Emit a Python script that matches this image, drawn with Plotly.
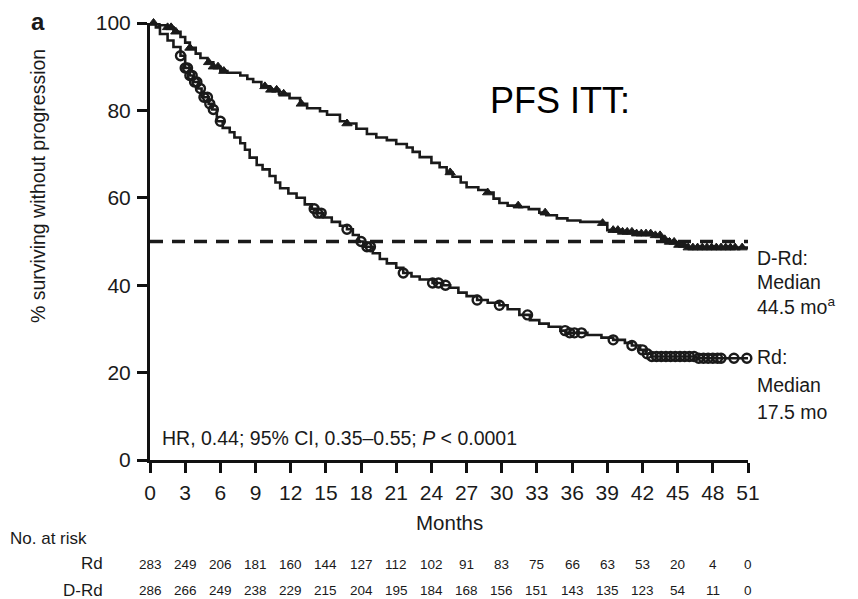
import numpy as np
import plotly.graph_objects as go

# ---------------- data ----------------
rd_time = [0, 0.5, 0.85, 1.5, 2.0, 2.6, 3.0, 3.4, 3.7, 4.1, 4.4, 5.0, 5.3, 5.7, 6.2, 6.8, 7.2, 7.7,
           8.1, 8.5, 9.1, 9.6, 10.2, 10.7, 11.1, 11.8, 12.5, 13.2, 13.8, 14.2, 14.8, 15.5, 16.2,
           16.8, 17.3, 17.8, 18.2, 19.0, 19.6, 20.2, 21.0, 21.6, 22.3, 23.0, 24.1, 25.0, 25.6,
           26.3, 27.0, 27.9, 28.8, 29.8, 30.5, 31.5, 32.4, 33.2, 34.0, 35.0, 35.5, 37.3, 38.5,
           39.5, 40.5, 41.1, 41.8, 42.3, 42.8, 46.6, 51.0]
rd_surv = [100, 99, 97.5, 96, 94.5, 92.5, 89.7, 88, 86.5, 85, 83, 81.5, 80.2, 77.5, 76, 75, 73.8, 72.5,
           71, 69.2, 67.5, 66.5, 65, 63.5, 62.2, 61, 60, 58.5, 57.5, 56.5, 55.5, 54.5, 53.6,
           52.8, 51.5, 50, 48.8, 47.3, 46, 45, 44, 42.8, 42, 41.3, 40.5, 40, 39.4,
           38.3, 37.5, 36.6, 36, 35.4, 34.5, 33.2, 32, 31.2, 30.5, 29.6, 29.1, 28.6, 28,
           27.5, 26.8, 26.2, 25.2, 24.3, 23.7, 23.3, 23.3]

drd_time = [0, 0.8, 1.4, 2.0, 2.6, 3.0, 3.4, 3.9, 4.3, 4.9, 5.4, 6.0, 6.6, 7.7, 8.3, 8.8, 9.5, 10.2,
            11.0, 11.9, 12.8, 13.4, 14.5, 15.1, 16.2, 16.8, 17.6, 18.5, 19.3, 20.2, 21.0, 21.9,
            22.4, 23.0, 24.0, 24.7, 25.3, 25.8, 26.5, 27.0, 28.0, 28.7, 29.3, 29.8, 30.5, 31.5,
            32.3, 33.2, 33.8, 34.7, 35.6, 36.7, 38.6, 39.0, 40.1, 41.5, 42.9, 43.6, 44.3, 45.0,
            45.8, 51.0]
drd_surv = [100, 99.5, 99, 98, 96.8, 95.5, 94.3, 93, 92, 91, 90, 89, 88.6, 88, 87.2, 86.5, 85.5, 84.7,
            83.8, 82.8, 81.5, 80.5, 79.8, 79, 77.5, 77, 75.8, 74.6, 73.8, 73.2, 72.3, 71.5,
            70.5, 69.3, 68, 67, 65.8, 64.8, 63.5, 62.4, 61.8, 61.2, 59.8, 58.8, 58.2, 57.9,
            57.4, 56.6, 56, 55.3, 54.8, 54.5, 54.2, 52.6, 52.2, 51.8, 51.4, 50.5, 49.9, 49.2,
            48.6, 48.6]

rd_censored = [2.6, 3.0, 3.2, 3.4, 3.6, 3.8, 4.0, 4.3, 4.6, 4.9, 5.1, 5.4, 6.0, 14.0, 14.3, 14.6,
               16.8, 18.0, 18.5, 18.8, 21.6, 24.1, 24.6, 25.2, 27.9, 29.8, 32.2, 35.4, 35.8, 36.2,
               36.8, 39.5, 41.1, 42.0, 42.4, 42.8, 43.2, 43.6, 44.0, 44.4, 44.8, 45.2, 45.6, 46.0,
               46.4, 46.8, 47.2, 47.6, 48.0, 48.4, 48.7, 49.8, 50.9]
drd_censored = [0.3, 1.5, 1.8, 2.2, 3.4, 5.0, 5.4, 5.8, 6.3, 9.8, 10.3, 10.8, 11.4, 12.9, 16.8,
                25.6, 28.8, 31.4, 33.7, 38.6, 39.5, 39.9, 40.3, 40.7, 41.1, 41.5, 41.9, 42.3, 42.7,
                43.1, 43.5, 43.9, 44.3, 44.7, 45.1, 45.5, 45.9, 46.3, 46.7, 47.1, 47.5, 47.9, 48.3,
                48.7, 49.1, 49.5, 49.9, 50.5]

month_ticks = list(range(0, 52, 3))
risk_rd = [283, 249, 206, 181, 160, 144, 127, 112, 102, 91, 83, 75, 66, 63, 53, 20, 4, 0]
risk_drd = [286, 266, 249, 238, 229, 215, 204, 195, 184, 168, 156, 151, 143, 135, 123, 54, 11, 0]
median_level = 50

# ---------------- layout helpers ----------------
W, H = 858, 599
L, R, T, B = 150, 110, 23, 139
PW, PH = W - L - R, H - T - B
FONT = "Liberation Sans, Arial, Helvetica, sans-serif"
INK = "#1a1a1a"


def px(x):
    return (x - L) / PW


def py(y):
    return (H - B - y) / PH


def step_at(times, surv, t):
    times = np.asarray(times)
    i = np.searchsorted(times, t, side="right") - 1
    return np.asarray(surv)[i]


fig = go.Figure()

# median reference line
fig.add_trace(go.Scatter(x=[0, 51], y=[median_level, median_level], mode="lines",
                         line=dict(color=INK, width=3.5, dash="13px,9px"),
                         hoverinfo="skip", showlegend=False, cliponaxis=False))

# KM step curves
for t, s in ((rd_time, rd_surv), (drd_time, drd_surv)):
    fig.add_trace(go.Scatter(x=t, y=s, mode="lines", line=dict(color=INK, width=2.6, shape="hv"),
                             showlegend=False, cliponaxis=False))

# censor marks
fig.add_trace(go.Scatter(x=rd_censored, y=step_at(rd_time, rd_surv, rd_censored), mode="markers",
                         marker=dict(symbol="circle-open", size=9, color=INK, line=dict(width=2.4, color=INK)),
                         showlegend=False, cliponaxis=False))
fig.add_trace(go.Scatter(x=drd_censored, y=step_at(drd_time, drd_surv, drd_censored), mode="markers",
                         marker=dict(symbol="triangle-up", size=9, color=INK, line=dict(width=1, color=INK)),
                         showlegend=False, cliponaxis=False))

ann = []


def text(x, y, s, size, xanchor="center", xref="paper", **kw):
    ann.append(dict(x=x, y=y, xref=xref, yref="paper", text=s, showarrow=False,
                    xanchor=xanchor, yanchor="middle",
                    font=dict(family=FONT, size=size, color=kw.pop("color", INK)), **kw))


text(px(38), py(22), "<b>a</b>", 24)
text(px(38), py(186), "% surviving without progression", 19.5, textangle=-90)
text(px(560), py(100), "PFS ITT:", 36, color="#000000")
text(px(160), py(438), "HR, 0.44; 95% CI, 0.35–0.55; <i>P</i> < 0.0001", 19.5, xanchor="left")
text(px(449), py(522), "Months", 20.5)

for s, yy in (("D-Rd:", 258), ("Median", 282), ("44.5 mo<sup>a</sup>", 306),
              ("Rd:", 357), ("Median", 385), ("17.5 mo", 412)):
    text(px(755), py(yy), s, 19.5, xanchor="left")

text(px(8), py(538), "No. at risk", 17, xanchor="left")
text(px(105), py(563), "Rd", 17, xanchor="right")
text(px(105), py(590), "D-Rd", 17, xanchor="right")
for m, a, b in zip(month_ticks, risk_rd, risk_drd):
    text(m, py(564), str(a), 13.5, xref="x")
    text(m, py(590), str(b), 13.5, xref="x")

axis_common = dict(showgrid=False, zeroline=False, showline=True, linewidth=3, linecolor="#111111",
                   ticks="outside", ticklen=10, tickwidth=3, tickcolor="#111111",
                   tickfont=dict(family=FONT, size=21, color=INK))

fig.update_layout(
    width=W, height=H, margin=dict(l=L, r=R, t=T, b=B, autoexpand=False),
    paper_bgcolor="white", plot_bgcolor="white", showlegend=False,
    xaxis=dict(range=[0, 51], tickvals=month_ticks, ticklabelstandoff=2, **axis_common),
    yaxis=dict(range=[0, 100], tickvals=[0, 20, 40, 60, 80, 100], ticklabelstandoff=2, **axis_common),
    annotations=ann,
)

fig.write_html("out.html")
